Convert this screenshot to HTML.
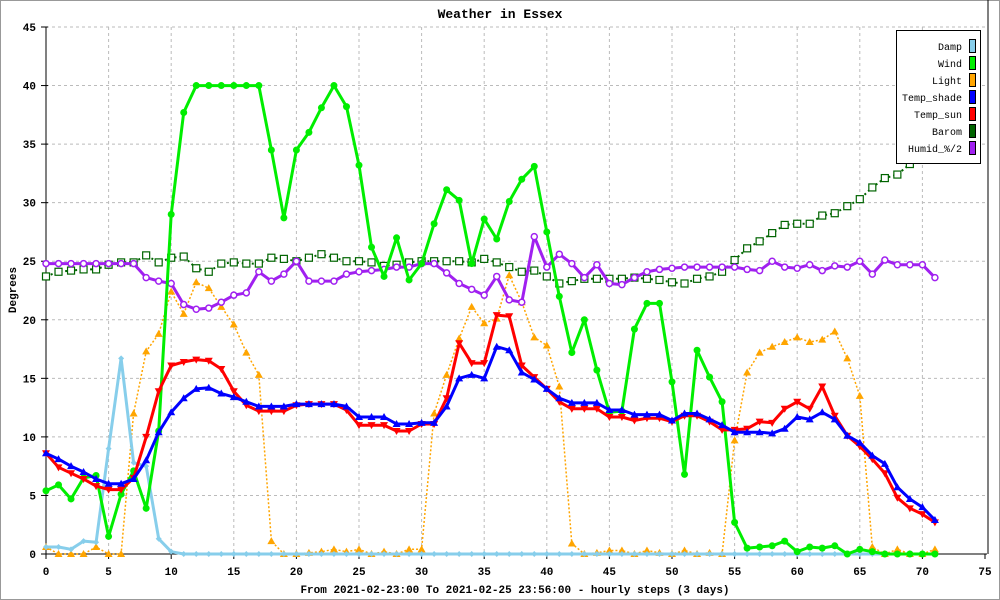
<!DOCTYPE html>
<html><head><meta charset="utf-8"><style>
html,body{margin:0;padding:0;background:#fff;}
svg{display:block;font-family:"Liberation Mono","DejaVu Sans Mono",monospace;}
</style></head><body>
<svg id="chart" width="1000" height="600" viewBox="0 0 1000 600" xmlns="http://www.w3.org/2000/svg">
<rect x="0.5" y="0.5" width="999" height="599" fill="#fff" stroke="#999"/>
<text x="500" y="18" text-anchor="middle" font-size="13" font-weight="bold">Weather in Essex</text>
<text transform="translate(16,290) rotate(-90)" text-anchor="middle" font-size="11" font-weight="bold">Degrees</text>
<text x="515" y="593" text-anchor="middle" font-size="11" font-weight="bold">From 2021-02-23:00 To 2021-02-25 23:56:00 - hourly steps (3 days)</text>
<g id="grid"></g>
<g id="series"></g>
<g id="legend"></g>
</svg>
<script>
const xTicks=[0,5,10,15,20,25,30,35,40,45,50,55,60,65,70,75];
const yTicks=[0,5,10,15,20,25,30,35,40,45];
const damp=[0.6,0.6,0.4,1.1,1,9,16.7,7.8,7.5,1.3,0.2,0,0,0,0,0,0,0,0,0,0,0,0,0,0,0,0,0,0,0,0,0,0,0,0,0,0,0,0,0,0,0,0,0,0,0,0,0,0,0,0,0,0,0,0,0,0,0,0,0,0,0,0,0,0,0,0,0,0,0,0,0];
const wind=[5.4,5.9,4.7,6.5,6.7,1.5,5.1,7.1,3.9,10.5,29,37.7,40,40,40,40,40,40,34.5,28.7,34.5,36,38.1,40,38.2,33.2,26.2,23.7,27,23.4,24.8,28.2,31.1,30.2,24.8,28.6,26.9,30.1,32,33.1,27.5,22,17.2,20,15.7,12.1,12.2,19.2,21.4,21.4,14.7,6.8,17.4,15.1,13,2.7,0.5,0.6,0.7,1.1,0.2,0.6,0.5,0.7,0,0.4,0.2,0,0,0,0,0];
const light=[0.6,0,0,0,0.6,0,0,12,17.3,18.8,22.4,20.5,23.2,22.7,21.1,19.6,17.2,15.3,1.1,0,0,0.1,0.2,0.4,0.2,0.4,0,0.2,0,0.4,0.4,12,15.3,18.4,21.1,19.7,20.1,23.8,21.5,18.5,17.8,14.3,0.9,0,0.1,0.3,0.3,0,0.3,0.1,0,0.3,0,0.1,0,9.7,15.5,17.2,17.7,18.1,18.5,18.1,18.3,19,16.7,13.5,0.6,0,0.4,0,0,0.4];
const tempShade=[8.6,8.1,7.5,7,6.4,6,6,6.4,8,10.4,12.1,13.3,14.1,14.2,13.7,13.4,13,12.6,12.6,12.6,12.8,12.8,12.8,12.8,12.6,11.7,11.7,11.7,11.1,11.1,11.2,11.2,12.6,15,15.3,15,17.7,17.4,15.5,14.9,14.1,13.3,12.9,12.9,12.9,12.3,12.3,11.9,11.9,11.9,11.4,12,12,11.5,11,10.4,10.4,10.4,10.3,10.7,11.7,11.5,12.1,11.5,10.1,9.5,8.4,7.7,5.7,4.7,4,2.9];
const tempSun=[8.6,7.4,6.9,6.4,5.8,5.5,5.5,6.5,10,13.9,16.1,16.4,16.6,16.5,15.8,13.9,12.7,12.2,12.2,12.2,12.7,12.8,12.8,12.8,12.3,11,11,11,10.5,10.5,11.1,11.1,13.3,18,16.3,16.3,20.4,20.3,16.1,15.1,14.1,13,12.4,12.4,12.4,11.7,11.7,11.4,11.6,11.6,11.3,11.8,11.8,11.3,10.6,10.6,10.7,11.3,11.2,12.4,13,12.4,14.3,11.8,10.1,9.2,8.1,6.9,4.8,3.9,3.4,2.7];
const barom=[23.7,24.1,24.2,24.3,24.3,24.7,24.9,24.9,25.5,24.9,25.3,25.4,24.4,24.1,24.8,24.9,24.8,24.8,25.3,25.2,25,25.3,25.6,25.3,25,25,24.9,24.6,24.7,24.9,25,25,25,25,24.9,25.2,24.9,24.5,24.1,24.2,23.7,23.1,23.3,23.5,23.5,23.5,23.5,23.6,23.5,23.4,23.2,23.1,23.5,23.7,24.1,25.1,26.1,26.7,27.4,28.1,28.2,28.2,28.9,29.1,29.7,30.3,31.3,32.1,32.4,33.3,34.2,35];
const humid=[24.8,24.8,24.8,24.8,24.8,24.8,24.8,24.8,23.6,23.3,23.1,21.3,20.9,21,21.5,22.1,22.3,24.1,23.3,23.9,25,23.3,23.3,23.3,23.9,24.1,24.2,24.3,24.5,24.5,24.8,24.8,24,23.1,22.6,22.1,23.7,21.7,21.5,27.1,24.5,25.6,24.8,23.6,24.7,23.1,23,23.6,24.1,24.3,24.4,24.5,24.5,24.5,24.5,24.5,24.3,24.2,25,24.5,24.4,24.7,24.2,24.6,24.5,25,23.9,25.1,24.7,24.7,24.7,23.6];
const legendNames=["Damp","Wind","Light","Temp_shade","Temp_sun","Barom","Humid_%/2"];
const legendColors=["#87ceeb","#00ee00","#ffa500","#0000ff","#ff0000","#006400","#a020f0"];

const X0=46,X1=985,Y0=554,Y1=27;
const xs=v=>X0+(v-0)*(X1-X0)/75;
const ys=v=>Y0-(v-0)*(Y0-Y1)/45;
const NS="http://www.w3.org/2000/svg";
function mk(tag,attrs,parent){const e=document.createElementNS(NS,tag);for(const k in attrs)e.setAttribute(k,attrs[k]);parent.appendChild(e);return e;}
const grid=document.getElementById('grid');
xTicks.forEach(t=>{
  if(t>0&&t<75){const l=mk('line',{x1:xs(t),x2:xs(t),y1:Y1,y2:Y0,stroke:'#bbb','stroke-dasharray':'3,3'},grid);
  
  }
  const tk=mk('line',{x1:xs(t),x2:xs(t),y1:Y0,y2:Y0+5,stroke:'#000'},grid);
  
  
  const tx=mk('text',{x:xs(t),y:Y0+21,'text-anchor':'middle','font-size':'11','font-weight':'bold'},grid);
  tx.textContent=t;
  
  
});
yTicks.forEach(t=>{
  if(t>0){const l=mk('line',{x1:X0,x2:X1,y1:ys(t),y2:ys(t),stroke:'#bbb','stroke-dasharray':'3,3'},grid);
  
  }
  const tk=mk('line',{x1:X0-5,x2:X0+2,y1:ys(t),y2:ys(t),stroke:'#000'},grid);
  
  
  const tx=mk('text',{x:X0-10,y:ys(t)+4,'text-anchor':'end','font-size':'11','font-weight':'bold'},grid);
  tx.textContent=t;
  
  
});
const ax=mk('path',{d:`M${X0},${Y1}V${Y0}H${X1+2}`,fill:'none',stroke:'#000'},grid);


const rax=mk('line',{x1:X1+3,x2:X1+3,y1:0,y2:Y0,stroke:'#000'},grid);



const S=document.getElementById('series');
function marker(g,type,x,y,c){
  let e;
  if(type==='circle')e=mk('circle',{cx:x,cy:y,r:3.5,fill:c},g);
  else if(type==='up')e=mk('path',{d:`M${x},${y-4}L${x+4},${y+3}L${x-4},${y+3}Z`,fill:c},g);
  else if(type==='down')e=mk('path',{d:`M${x},${y+4}L${x+4},${y-3}L${x-4},${y-3}Z`,fill:c},g);
  else if(type==='square')e=mk('rect',{x:x-3.5,y:y-3.5,width:7,height:7,fill:'#fff',stroke:c,'stroke-width':1.2},g);
  else if(type==='diamond')e=mk('path',{d:`M${x},${y-3}L${x+3},${y}L${x},${y+3}L${x-3},${y}Z`,fill:c},g);
  else if(type==='ring')e=mk('circle',{cx:x,cy:y,r:3,fill:'#fff',stroke:c,'stroke-width':1.5},g);
  return e;
}
function drawSeries(name,data,color,width,dash,mtype){
  const g=mk('g',{},S);
  
  
  const d=data.map((v,i)=>(i?'L':'M')+xs(i).toFixed(1)+','+ys(v).toFixed(1)).join('');
  const p=mk('path',{d:d,fill:'none',stroke:color,'stroke-width':width,'stroke-dasharray':dash||'none','stroke-linejoin':'round'},g);
  
  
  data.forEach((v,i)=>{
    const m=marker(g,mtype,xs(i),ys(v),color);
    
    
  });
}
drawSeries('light',light,'#ffa500',1.5,'2,2','up');
drawSeries('barom',barom,'#006400',2,'2,3','square');
drawSeries('humid',humid,'#a020f0',3,null,'ring');
drawSeries('damp',damp,'#87ceeb',3,null,'diamond');
drawSeries('wind',wind,'#00ee00',3,null,'circle');
drawSeries('temp-sun',tempSun,'#ff0000',3,null,'down');
drawSeries('temp-shade',tempShade,'#0000ff',3,null,'up');

const L=document.getElementById('legend');
const lb=mk('rect',{x:896.5,y:30.5,width:84,height:133,fill:'#fff',stroke:'#000'},L);


legendNames.forEach((n,i)=>{
  const y=46+i*17;
  const t=mk('text',{x:962,y:y+4,'text-anchor':'end','font-size':'10'},L);
  t.textContent=n;
  
  
  const r=mk('rect',{x:969.5,y:y-6.5,width:6,height:13,fill:legendColors[i],stroke:'#000'},L);
  
  
});
</script>
</body></html>
